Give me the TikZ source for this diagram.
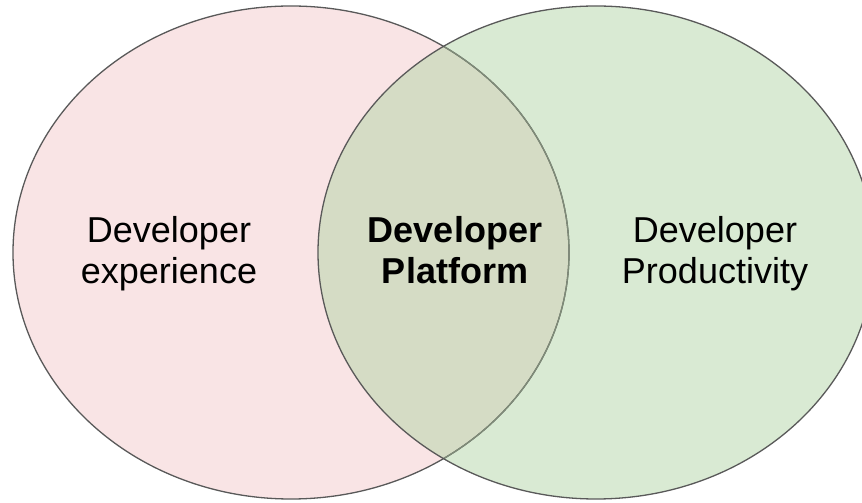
\documentclass[tikz,border=0pt]{standalone}
\usepackage{fontspec}
\setmainfont{Liberation Sans}
\definecolor{pinkfill}{HTML}{F9E4E5}
\definecolor{greenfill}{HTML}{D9EAD3}
\definecolor{overlapfill}{HTML}{D5DCC5}
\definecolor{edge}{HTML}{595959}
\definecolor{edgelight}{HTML}{7F8C78}
\begin{document}
\begin{tikzpicture}[x=1pt,y=1pt,
  lbl/.style={align=center,font=\fontsize{36}{41}\selectfont,inner sep=0pt},
  edgeline/.style={draw=edge,line width=1.3pt}]
\useasboundingbox (0,0) rectangle (862,503);
\clip (0,0) rectangle (862,503);
\coordinate (cl) at (291,250.5);
\coordinate (cr) at (596,250.5);
\fill[pinkfill] (cl) ellipse [x radius=278, y radius=246.5];
\fill[greenfill] (cr) ellipse [x radius=278, y radius=246.5];
\begin{scope}
  \clip (cl) ellipse [x radius=278, y radius=246.5];
  \fill[overlapfill] (cr) ellipse [x radius=278, y radius=246.5];
\end{scope}
\draw[edgeline] (cl) ellipse [x radius=278, y radius=246.5];
\begin{scope}
  \clip (cr) ellipse [x radius=278, y radius=246.5];
  \draw[draw=edgelight,line width=1.3pt] (cl) ellipse [x radius=278, y radius=246.5];
\end{scope}
\draw[edgeline] (cr) ellipse [x radius=278, y radius=246.5];
\node[lbl] (dx) at (169,249) {Developer\\experience};
\node[lbl,font=\fontsize{36}{41}\selectfont\bfseries] (dp) at (455,252.5) {Developer\\Platform};
\node[lbl] (dprod) at (715,249) {Developer\\Productivity};
\end{tikzpicture}
\end{document}
